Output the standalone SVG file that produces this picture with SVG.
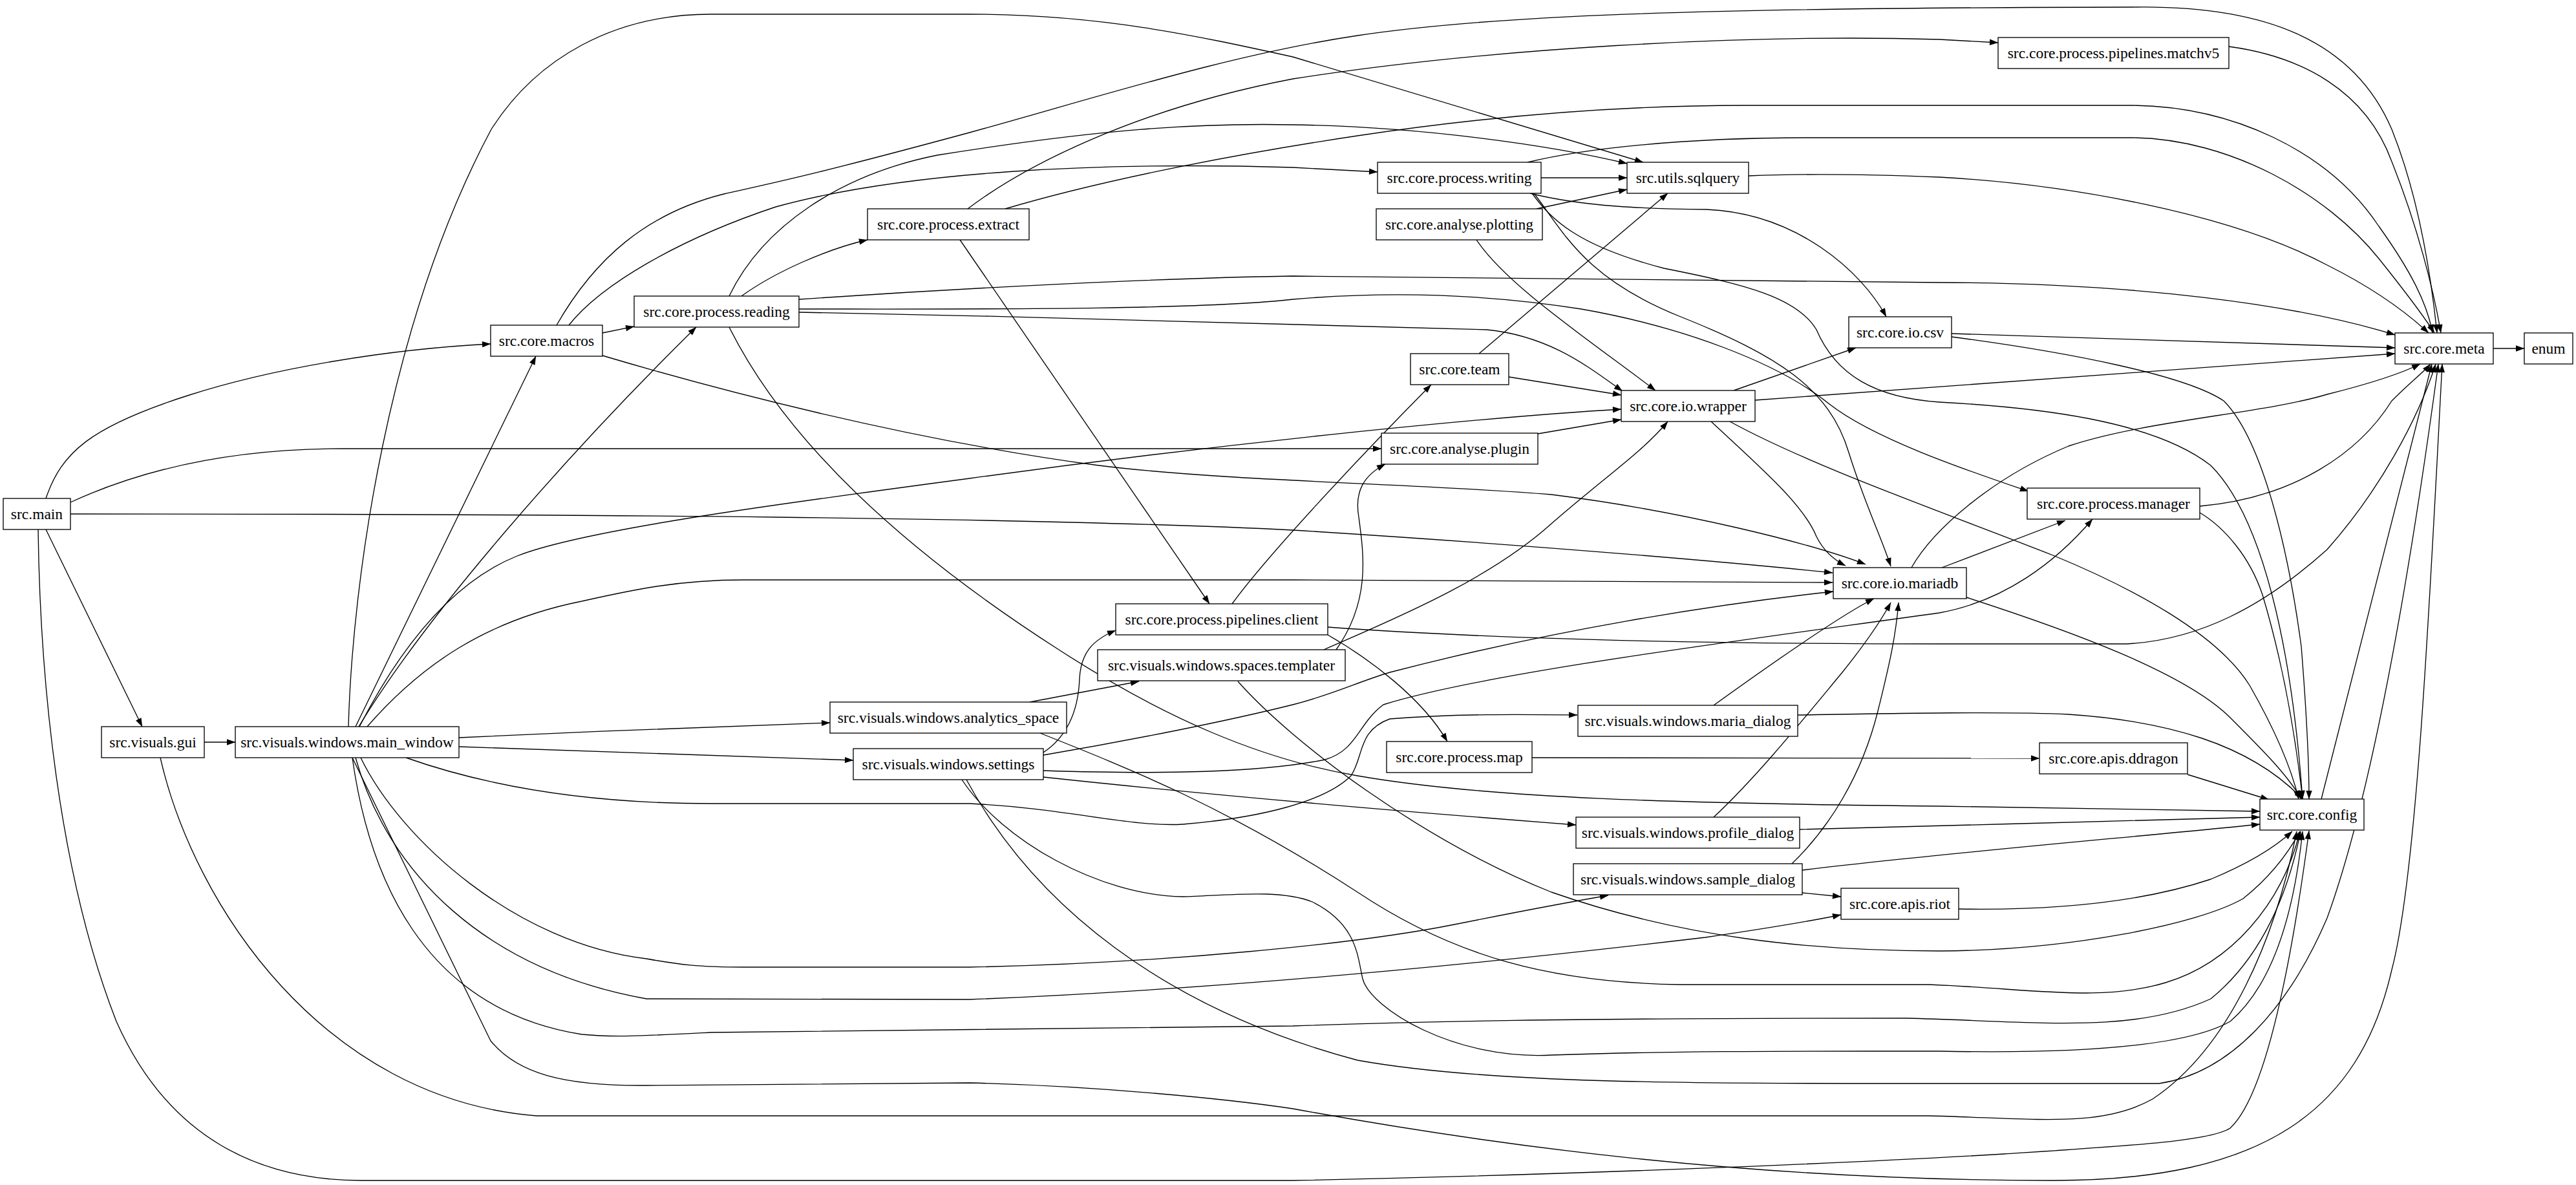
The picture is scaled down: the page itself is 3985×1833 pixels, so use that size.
<svg xmlns="http://www.w3.org/2000/svg" width="3985" height="1833" viewBox="0 0 3985 1833">
<defs>
<style>
.n rect{fill:#fff;stroke:#000;stroke-width:1.33}
.n text{font-family:"Liberation Serif","Times New Roman",serif;font-size:23.5px;text-anchor:middle;fill:#000}
.e path{fill:none;stroke:#000;stroke-width:1.33;marker-end:url(#ah)}
</style>
<marker id="ah" markerWidth="14" markerHeight="10" refX="13" refY="4.7" orient="auto" markerUnits="userSpaceOnUse" overflow="visible"><path d="M0,0 L13.3,4.7 L0,9.4 z" fill="#000"/></marker>
</defs>
<rect x="0" y="0" width="3985" height="1833" fill="#fff"/>
<g id="connectors" class="e">
<path id="e1" d="M71,771 C95,700 140,660 290,612 C420,570 600,540 759,532"/>
<path id="e2" d="M109,777 C250,712 400,694 530,694 L2137,694"/>
<path id="e3" d="M109,795 C900,795 1600,800 2000,820 C2400,845 2700,872 2835,886"/>
<path id="e4" d="M71,819 L220,1124"/>
<path id="e5" d="M59,819 C62,1050 90,1350 180,1580 C260,1760 400,1826 560,1826 L2000,1826 C2400,1818 2850,1800 3100,1785 C3300,1772 3420,1765 3450,1745 C3510,1690 3550,1450 3572,1285"/>
<path id="e6" d="M316,1148 L364,1148"/>
<path id="e7" d="M248,1172 C300,1400 500,1700 830,1726 L2985,1726 C3150,1730 3250,1745 3330,1700 C3450,1620 3520,1450 3553,1286"/>
<path id="e8" d="M539,1124 C545,900 600,500 760,200 C830,90 950,22 1100,22 L1500,22 C1700,22 1850,55 2000,88 L2542,251"/>
<path id="e9" d="M550,1124 L829,551"/>
<path id="e10" d="M555,1124 C660,950 880,700 1077,506"/>
<path id="e11" d="M556,1124 C620,1000 700,900 800,860 C900,820 1200,780 1500,740 C1900,685 2300,645 2508,633"/>
<path id="e12" d="M568,1124 C650,1030 750,960 900,930 C980,912 1050,897 1150,897 L2000,897 C2400,898 2700,900 2835,901"/>
<path id="e13" d="M710,1141 C900,1132 1100,1124 1284,1118"/>
<path id="e14" d="M710,1155 C900,1162 1100,1170 1320,1176"/>
<path id="e15" d="M628,1172 C750,1215 900,1243 1100,1243 L1500,1243 C1650,1250 1750,1280 1830,1275 C1950,1265 2050,1240 2090,1200 C2110,1170 2100,1130 2150,1112 C2250,1104 2350,1105 2440,1106"/>
<path id="e16" d="M545,1172 L759,1610 C800,1660 870,1680 1000,1679 L1500,1675 C1700,1680 1900,1700 2000,1715 C2300,1770 2700,1826 3176,1826 C3500,1826 3650,1720 3700,1500 C3740,1350 3760,900 3778,563"/>
<path id="e17" d="M545,1172 C570,1350 650,1560 900,1600 C950,1605 1000,1602 1100,1597 L2000,1587 C2200,1580 2400,1575 2950,1575 C3150,1580 3300,1600 3420,1545 C3500,1480 3540,1380 3559,1286"/>
<path id="e18" d="M550,1172 C600,1350 750,1500 1000,1545 L1500,1546 C1900,1530 2300,1490 2638,1450 C2740,1435 2800,1425 2848,1415"/>
<path id="e19" d="M558,1172 C620,1300 800,1460 1000,1483 C1050,1492 1080,1496 1150,1496 L1500,1496 C1800,1490 2100,1460 2250,1430 C2350,1410 2430,1395 2488,1385"/>
<path id="e20" d="M932,515 L981,505"/>
<path id="e21" d="M880,503 C930,440 1050,370 1200,320 C1400,265 1700,250 2000,259 L2131,266"/>
<path id="e22" d="M861,503 C920,400 1000,330 1120,300 C1200,282 1260,270 1500,205 C1700,150 1900,85 2100,55 C2300,25 2600,12 3300,11 C3500,8 3640,60 3700,200 C3740,300 3760,420 3770,515"/>
<path id="e23" d="M932,550 C1100,600 1400,680 1700,720 C1900,745 2200,748 2400,765 C2600,790 2800,840 2886,873"/>
<path id="e24" d="M1147,458 C1200,420 1280,385 1342,371"/>
<path id="e25" d="M1128,458 C1180,350 1300,270 1450,240 C1700,200 1850,190 2000,193 C2200,196 2400,225 2517,253"/>
<path id="e26" d="M1236,463 C1500,445 1800,430 2000,427 L3000,437 C3300,438 3550,470 3705,518"/>
<path id="e27" d="M1236,478 C1500,478 1850,480 2000,463 C2150,450 2300,455 2446,478 C2600,505 2750,560 2830,625 C2900,680 3050,730 3138,760"/>
<path id="e28" d="M1236,483 C1600,490 2000,500 2300,510 C2400,520 2460,570 2510,605"/>
<path id="e29" d="M1128,506 C1200,650 1350,820 1638,1005 C1800,1110 1950,1175 2100,1200 C2300,1235 2600,1243 3000,1247 C3250,1250 3400,1253 3496,1255"/>
<path id="e30" d="M1497,323 C1580,260 1750,170 2000,122 C2300,75 2700,52 3000,61 L3091,66"/>
<path id="e31" d="M1555,323 C1700,280 1900,240 2100,210 C2300,180 2500,163 2700,163 L3300,163 C3450,165 3600,230 3680,350 C3730,420 3755,470 3763,515"/>
<path id="e32" d="M1485,371 L1871,934"/>
<path id="e33" d="M2384,275 L2517,275"/>
<path id="e34" d="M2363,251 C2450,230 2600,213 2800,213 L3300,213 C3450,215 3600,300 3680,400 C3720,450 3750,490 3766,515"/>
<path id="e35" d="M2367,299 C2450,320 2550,323 2640,324 C2780,330 2880,420 2918,490"/>
<path id="e36" d="M2373,299 C2420,360 2450,430 2600,490 C2750,550 2830,600 2860,700 C2885,780 2910,830 2925,876"/>
<path id="e37" d="M2370,299 C2400,340 2440,380 2574,415 C2700,440 2780,460 2810,510 C2840,580 2900,615 3000,622 C3150,630 3330,650 3420,720 C3500,800 3545,1000 3562,1236"/>
<path id="e38" d="M2705,272 C2800,268 2900,270 3000,274 C3200,285 3450,330 3600,410 C3680,450 3730,490 3757,515"/>
<path id="e39" d="M2377,323 L2517,293"/>
<path id="e40" d="M2284,371 C2330,440 2450,520 2561,604"/>
<path id="e41" d="M2288,547 L2580,299"/>
<path id="e42" d="M2334,583 L2508,611"/>
<path id="e43" d="M2682,604 L2871,538"/>
<path id="e44" d="M2715,619 L3705,547"/>
<path id="e45" d="M2647,652 C2720,720 2790,780 2810,830 C2820,850 2835,865 2855,875"/>
<path id="e46" d="M2676,652 C2800,720 3000,790 3176,859 C3300,910 3430,980 3480,1060 C3520,1130 3545,1190 3556,1236"/>
<path id="e47" d="M2379,671 L2508,649"/>
<path id="e48" d="M3019,516 L3705,538"/>
<path id="e49" d="M3019,521 C3200,545 3380,580 3440,620 C3500,680 3540,850 3560,1000 C3568,1100 3572,1180 3572,1236"/>
<path id="e50" d="M3448,72 C3560,87 3660,140 3700,250 C3740,350 3765,450 3776,515"/>
<path id="e51" d="M3857,539 L3905,539"/>
<path id="e52" d="M3403,783 C3550,770 3650,700 3700,620 C3730,590 3750,575 3760,563"/>
<path id="e53" d="M3403,793 C3440,815 3480,860 3500,920 C3530,1020 3550,1130 3562,1236"/>
<path id="e54" d="M3004,878 L3195,805"/>
<path id="e55" d="M2957,878 C2990,820 3080,740 3200,690 C3320,650 3500,640 3600,610 C3680,590 3720,575 3744,563"/>
<path id="e56" d="M3042,924 C3200,975 3380,1040 3450,1110 C3500,1160 3540,1200 3560,1236"/>
<path id="e57" d="M1906,934 C1960,860 2100,710 2214,595"/>
<path id="e58" d="M2054,982 C2120,1020 2200,1080 2239,1147"/>
<path id="e59" d="M2054,970 C2300,988 2600,996 3000,996 L3290,996 C3400,990 3500,940 3600,850 C3680,760 3740,650 3768,563"/>
<path id="e60" d="M2067,1005 C2120,930 2110,860 2102,800 C2095,760 2110,735 2143,718"/>
<path id="e61" d="M2048,1005 C2150,960 2300,900 2400,810 C2480,740 2540,700 2580,652"/>
<path id="e62" d="M1915,1054 C2000,1150 2200,1300 2400,1380 C2600,1450 2800,1471 3000,1471 C3200,1470 3400,1430 3470,1390 C3520,1350 3545,1310 3558,1286"/>
<path id="e63" d="M1593,1086 L1762,1054"/>
<path id="e64" d="M1609,1134 C1750,1190 1900,1250 2100,1380 C2250,1480 2400,1520 2600,1523 L2985,1523 C3150,1530 3250,1550 3350,1520 C3450,1490 3530,1400 3558,1286"/>
<path id="e65" d="M1614,1164 C1650,1140 1668,1100 1670,1050 C1672,1010 1690,990 1726,975"/>
<path id="e66" d="M1614,1168 C1750,1145 1900,1115 2000,1090 C2060,1075 2100,1055 2150,1040 C2400,975 2650,935 2836,915"/>
<path id="e67" d="M1614,1192 C1800,1198 1950,1195 2050,1175 C2100,1160 2100,1120 2140,1090 C2300,1040 2700,990 3000,948 C3100,930 3180,870 3237,803"/>
<path id="e68" d="M1614,1202 C1800,1222 2100,1250 2438,1276"/>
<path id="e69" d="M1488,1206 C1550,1300 1700,1385 1830,1387 C1900,1385 1980,1375 2030,1395 C2100,1430 2100,1480 2108,1514 C2120,1560 2250,1640 2400,1632 C2600,1625 2800,1626 3000,1626 C3200,1630 3380,1620 3450,1580 C3520,1520 3550,1400 3562,1286"/>
<path id="e70" d="M1495,1206 C1600,1400 1800,1560 2100,1640 C2300,1676 2600,1676 3000,1676 L3340,1676 C3450,1660 3540,1560 3600,1420 C3680,1200 3740,800 3772,563"/>
<path id="e71" d="M2651,1091 Q2840,955 2899,926"/>
<path id="e72" d="M2781,1106 C2900,1104 3100,1100 3200,1105 C3350,1115 3480,1150 3562,1236"/>
<path id="e73" d="M2370,1172 L3155,1173"/>
<path id="e74" d="M3384,1198 L3510,1237"/>
<path id="e75" d="M2651,1264 C2720,1200 2800,1100 2850,1040 C2890,990 2910,960 2925,932"/>
<path id="e76" d="M2784,1283 C3000,1277 3300,1270 3496,1264"/>
<path id="e77" d="M2772,1336 C2830,1280 2880,1200 2905,1100 C2925,1020 2933,980 2937,932"/>
<path id="e78" d="M2788,1346 C3000,1320 3300,1295 3496,1275"/>
<path id="e79" d="M2788,1381 L2848,1387"/>
<path id="e80" d="M3030,1406 C3150,1408 3300,1400 3420,1360 C3480,1335 3520,1310 3546,1286"/>
<path id="e81" d="M3591,1236 L3762,563"/>
</g>
<g id="n-main" class="n"><rect x="5" y="771" width="104" height="48"/><text x="57" y="803">src.main</text></g>
<g id="n-gui" class="n"><rect x="157" y="1124" width="159" height="48"/><text x="236.5" y="1156">src.visuals.gui</text></g>
<g id="n-main_window" class="n"><rect x="364" y="1124" width="346" height="48"/><text x="537" y="1156">src.visuals.windows.main_window</text></g>
<g id="n-macros" class="n"><rect x="759" y="503" width="173" height="48"/><text x="845.5" y="535">src.core.macros</text></g>
<g id="n-reading" class="n"><rect x="981" y="458" width="255" height="48"/><text x="1108.5" y="490">src.core.process.reading</text></g>
<g id="n-extract" class="n"><rect x="1342" y="323" width="250" height="48"/><text x="1467" y="355">src.core.process.extract</text></g>
<g id="n-analytics_space" class="n"><rect x="1284" y="1086" width="366" height="48"/><text x="1467" y="1118">src.visuals.windows.analytics_space</text></g>
<g id="n-settings" class="n"><rect x="1320" y="1158" width="294" height="48"/><text x="1467" y="1190">src.visuals.windows.settings</text></g>
<g id="n-client" class="n"><rect x="1726" y="934" width="328" height="48"/><text x="1890" y="966">src.core.process.pipelines.client</text></g>
<g id="n-templater" class="n"><rect x="1698" y="1005" width="383" height="48"/><text x="1889.5" y="1037">src.visuals.windows.spaces.templater</text></g>
<g id="n-writing" class="n"><rect x="2131" y="251" width="253" height="48"/><text x="2257.5" y="283">src.core.process.writing</text></g>
<g id="n-plotting" class="n"><rect x="2129" y="323" width="257" height="48"/><text x="2257.5" y="355">src.core.analyse.plotting</text></g>
<g id="n-team" class="n"><rect x="2182" y="547" width="152" height="48"/><text x="2258" y="579">src.core.team</text></g>
<g id="n-plugin" class="n"><rect x="2137" y="670" width="242" height="48"/><text x="2258" y="702">src.core.analyse.plugin</text></g>
<g id="n-map" class="n"><rect x="2145" y="1147" width="225" height="48"/><text x="2257.5" y="1179">src.core.process.map</text></g>
<g id="n-sqlquery" class="n"><rect x="2517" y="251" width="188" height="48"/><text x="2611" y="283">src.utils.sqlquery</text></g>
<g id="n-wrapper" class="n"><rect x="2508" y="604" width="207" height="48"/><text x="2611.5" y="636">src.core.io.wrapper</text></g>
<g id="n-maria_dialog" class="n"><rect x="2441" y="1091" width="340" height="48"/><text x="2611" y="1123">src.visuals.windows.maria_dialog</text></g>
<g id="n-profile_dialog" class="n"><rect x="2438" y="1264" width="346" height="48"/><text x="2611" y="1296">src.visuals.windows.profile_dialog</text></g>
<g id="n-sample_dialog" class="n"><rect x="2434" y="1336" width="354" height="48"/><text x="2611" y="1368">src.visuals.windows.sample_dialog</text></g>
<g id="n-csv" class="n"><rect x="2860" y="490" width="159" height="48"/><text x="2939.5" y="522">src.core.io.csv</text></g>
<g id="n-mariadb" class="n"><rect x="2836" y="878" width="206" height="48"/><text x="2939" y="910">src.core.io.mariadb</text></g>
<g id="n-riot" class="n"><rect x="2848" y="1374" width="182" height="48"/><text x="2939" y="1406">src.core.apis.riot</text></g>
<g id="n-matchv5" class="n"><rect x="3091" y="58" width="357" height="48"/><text x="3269.5" y="90">src.core.process.pipelines.matchv5</text></g>
<g id="n-manager" class="n"><rect x="3136" y="755" width="267" height="48"/><text x="3269.5" y="787">src.core.process.manager</text></g>
<g id="n-ddragon" class="n"><rect x="3155" y="1149" width="229" height="48"/><text x="3269.5" y="1181">src.core.apis.ddragon</text></g>
<g id="n-meta" class="n"><rect x="3705" y="515" width="152" height="48"/><text x="3781" y="547">src.core.meta</text></g>
<g id="n-config" class="n"><rect x="3496" y="1236" width="161" height="48"/><text x="3576.5" y="1268">src.core.config</text></g>
<g id="n-enum" class="n"><rect x="3905" y="515" width="75" height="48"/><text x="3942.5" y="547">enum</text></g>
</svg>
